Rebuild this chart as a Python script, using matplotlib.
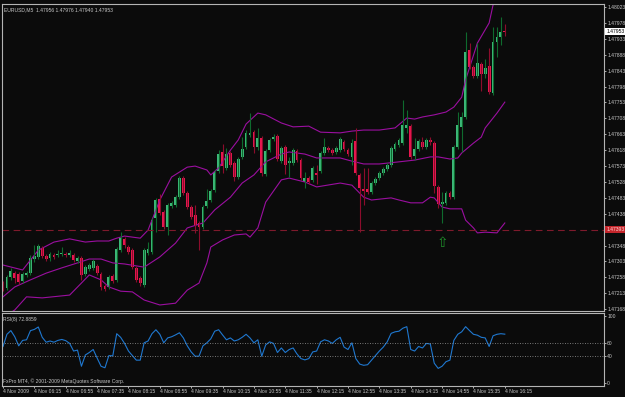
"""EURUSD M5 candlestick chart with Bollinger bands and RSI, MT4 style."""
import matplotlib
matplotlib.use("Agg")
import matplotlib.pyplot as plt
import matplotlib.transforms as mtransforms
import numpy as np

plt.rcParams["font.family"] = ["Liberation Sans", "DejaVu Sans"]

# Data
opens = [
    1.47242, 1.47228, 1.47259, 1.47270, 1.47268, 1.47248, 1.47265, 1.47270, 1.47310, 1.47316,
    1.47341, 1.47319, 1.47313, 1.47321, 1.47321, 1.47324, 1.47324, 1.47321, 1.47321, 1.47304,
    1.47313, 1.47268, 1.47282, 1.47285, 1.47290, 1.47268, 1.47234, 1.47231, 1.47262, 1.47251,
    1.47335, 1.47367, 1.47344, 1.47335, 1.47285, 1.47256, 1.47236, 1.47327, 1.47330, 1.47426,
    1.47480, 1.47443, 1.47401, 1.47460, 1.47463, 1.47485, 1.47539, 1.47497, 1.47457, 1.47435,
    1.47412, 1.47401, 1.47460, 1.47477, 1.47505, 1.47559, 1.47613, 1.47568, 1.47610, 1.47582,
    1.47542, 1.47599, 1.47627, 1.47661, 1.47669, 1.47627, 1.47652, 1.47551, 1.47618, 1.47650,
    1.47658, 1.47587, 1.47627, 1.47582, 1.47582, 1.47616, 1.47590, 1.47528, 1.47539, 1.47534,
    1.47553, 1.47559, 1.47610, 1.47624, 1.47618, 1.47613, 1.47618, 1.47641, 1.47618, 1.47599,
    1.47644, 1.47548, 1.47508, 1.47508, 1.47500, 1.47525, 1.47539, 1.47553, 1.47565, 1.47576,
    1.47621, 1.47633, 1.47638, 1.47681, 1.47686, 1.47602, 1.47621, 1.47641, 1.47627, 1.47647,
    1.47638, 1.47514, 1.47466, 1.47469, 1.47497, 1.47485, 1.47627, 1.47684, 1.47712, 1.47901,
    1.47853, 1.47828, 1.47862, 1.47834, 1.47856, 1.47780, 1.47924, 1.47938, 1.47956,
]
highs = [
    1.47248, 1.47265, 1.47285, 1.47276, 1.47273, 1.47273, 1.47276, 1.47321, 1.47350, 1.47352,
    1.47347, 1.47324, 1.47330, 1.47327, 1.47335, 1.47344, 1.47330, 1.47335, 1.47327, 1.47319,
    1.47319, 1.47293, 1.47299, 1.47310, 1.47296, 1.47273, 1.47239, 1.47265, 1.47268, 1.47344,
    1.47386, 1.47372, 1.47350, 1.47341, 1.47290, 1.47262, 1.47341, 1.47358, 1.47426, 1.47483,
    1.47494, 1.47449, 1.47469, 1.47474, 1.47491, 1.47545, 1.47545, 1.47502, 1.47463, 1.47463,
    1.47418, 1.47463, 1.47508, 1.47508, 1.47562, 1.47618, 1.47635, 1.47624, 1.47616, 1.47587,
    1.47599, 1.47655, 1.47675, 1.47723, 1.47675, 1.47681, 1.47658, 1.47621, 1.47652, 1.47664,
    1.47664, 1.47630, 1.47633, 1.47599, 1.47624, 1.47621, 1.47596, 1.47556, 1.47545, 1.47573,
    1.47576, 1.47616, 1.47652, 1.47630, 1.47624, 1.47630, 1.47655, 1.47647, 1.47624, 1.47650,
    1.47681, 1.47553, 1.47568, 1.47568, 1.47531, 1.47542, 1.47559, 1.47570, 1.47582, 1.47630,
    1.47641, 1.47652, 1.47760, 1.47732, 1.47692, 1.47652, 1.47650, 1.47655, 1.47652, 1.47655,
    1.47644, 1.47519, 1.47500, 1.47502, 1.47502, 1.47633, 1.47726, 1.47726, 1.47952, 1.47921,
    1.47859, 1.47921, 1.47868, 1.47876, 1.47907, 1.47967, 1.47967, 1.47995, 1.47976,
]
lows = [
    1.47219, 1.47222, 1.47251, 1.47242, 1.47239, 1.47242, 1.47259, 1.47265, 1.47302, 1.47310,
    1.47313, 1.47304, 1.47304, 1.47310, 1.47316, 1.47319, 1.47316, 1.47316, 1.47302, 1.47299,
    1.47251, 1.47262, 1.47276, 1.47279, 1.47265, 1.47222, 1.47219, 1.47225, 1.47242, 1.47245,
    1.47330, 1.47341, 1.47324, 1.47282, 1.47245, 1.47234, 1.47231, 1.47321, 1.47324, 1.47386,
    1.47435, 1.47395, 1.47378, 1.47454, 1.47457, 1.47480, 1.47491, 1.47452, 1.47423, 1.47384,
    1.47335, 1.47395, 1.47454, 1.47471, 1.47500, 1.47553, 1.47553, 1.47562, 1.47570, 1.47531,
    1.47536, 1.47593, 1.47621, 1.47655, 1.47610, 1.47618, 1.47545, 1.47545, 1.47613, 1.47644,
    1.47587, 1.47582, 1.47551, 1.47542, 1.47576, 1.47585, 1.47534, 1.47511, 1.47522, 1.47528,
    1.47522, 1.47553, 1.47604, 1.47613, 1.47604, 1.47607, 1.47613, 1.47616, 1.47602, 1.47576,
    1.47548, 1.47386, 1.47463, 1.47494, 1.47494, 1.47519, 1.47534, 1.47548, 1.47559, 1.47570,
    1.47616, 1.47627, 1.47633, 1.47667, 1.47593, 1.47590, 1.47616, 1.47621, 1.47621, 1.47633,
    1.47497, 1.47454, 1.47412, 1.47463, 1.47480, 1.47480, 1.47621, 1.47613, 1.47706, 1.47848,
    1.47822, 1.47822, 1.47785, 1.47822, 1.47777, 1.47774, 1.47882, 1.47916, 1.47940,
]
closes = [
    1.47228, 1.47259, 1.47276, 1.47256, 1.47245, 1.47268, 1.47270, 1.47313, 1.47319, 1.47347,
    1.47319, 1.47310, 1.47324, 1.47316, 1.47324, 1.47327, 1.47321, 1.47327, 1.47307, 1.47313,
    1.47265, 1.47287, 1.47293, 1.47304, 1.47270, 1.47231, 1.47225, 1.47259, 1.47248, 1.47338,
    1.47369, 1.47350, 1.47330, 1.47287, 1.47251, 1.47242, 1.47335, 1.47338, 1.47420, 1.47477,
    1.47440, 1.47401, 1.47463, 1.47469, 1.47485, 1.47539, 1.47497, 1.47457, 1.47429, 1.47406,
    1.47401, 1.47457, 1.47474, 1.47502, 1.47556, 1.47607, 1.47573, 1.47607, 1.47576, 1.47542,
    1.47593, 1.47621, 1.47667, 1.47667, 1.47627, 1.47652, 1.47553, 1.47616, 1.47647, 1.47655,
    1.47593, 1.47624, 1.47576, 1.47587, 1.47618, 1.47590, 1.47539, 1.47539, 1.47528, 1.47568,
    1.47548, 1.47610, 1.47627, 1.47618, 1.47610, 1.47624, 1.47650, 1.47621, 1.47607, 1.47638,
    1.47553, 1.47511, 1.47502, 1.47500, 1.47525, 1.47536, 1.47553, 1.47565, 1.47576, 1.47624,
    1.47635, 1.47647, 1.47689, 1.47689, 1.47599, 1.47621, 1.47644, 1.47627, 1.47647, 1.47641,
    1.47517, 1.47466, 1.47471, 1.47497, 1.47485, 1.47627, 1.47689, 1.47712, 1.47896, 1.47853,
    1.47828, 1.47865, 1.47834, 1.47851, 1.47783, 1.47924, 1.47938, 1.47952, 1.47953,
]

# Bollinger bands, sampled at bar indices
upper_idx = [0, 5, 9, 13, 17, 21, 24, 27, 29, 31, 35, 37, 40, 43, 47, 49, 52, 53, 55, 58,
             60, 62, 65, 67, 71, 74, 78, 81, 86, 89, 92, 96, 100, 103, 105, 107, 110, 113,
             115, 117, 118, 121, 124, 125, 128]
upper_band = [1.47293, 1.47279, 1.47335, 1.47358, 1.47367, 1.47358, 1.47361, 1.47361, 1.47369,
              1.47375, 1.47369, 1.47392, 1.47477, 1.47542, 1.47570, 1.47573, 1.47562, 1.47548,
              1.47568, 1.47618, 1.47647, 1.47692, 1.47723, 1.47718, 1.47695, 1.47684, 1.47686,
              1.47669, 1.47667, 1.47672, 1.47675, 1.47675, 1.47681, 1.47709, 1.47706, 1.47712,
              1.47718, 1.47726, 1.47740, 1.47768, 1.47817, 1.47921, 1.47978, 1.48029, 1.48077]
mid_idx = [0, 3, 7, 11, 15, 19, 22, 25, 28, 31, 36, 40, 44, 47, 51, 54, 58, 61, 64, 67,
           71, 73, 77, 80, 86, 89, 92, 96, 101, 105, 109, 111, 114, 116, 117, 120, 122, 123,
           126, 128]
mid_band = [1.47203, 1.47231, 1.47251, 1.47270, 1.47285, 1.47299, 1.47310, 1.47310, 1.47299,
            1.47296, 1.47287, 1.47316, 1.47355, 1.47398, 1.47412, 1.47449, 1.47485, 1.47525,
            1.47548, 1.47585, 1.47607, 1.47613, 1.47607, 1.47596, 1.47596, 1.47587, 1.47579,
            1.47579, 1.47585, 1.47590, 1.47599, 1.47599, 1.47593, 1.47596, 1.47610, 1.47638,
            1.47655, 1.47681, 1.47723, 1.47754]
lower_idx = [0, 3, 6, 10, 17, 20, 22, 25, 27, 30, 33, 36, 40, 44, 47, 50, 52, 53, 56, 59,
             62, 63, 65, 67, 71, 73, 77, 80, 86, 89, 92, 94, 99, 101, 104, 107, 109, 110,
             112, 114, 117, 118, 120, 121, 123, 126, 128]
lower_band = [1.47143, 1.47166, 1.47203, 1.47200, 1.47208, 1.47242, 1.47265, 1.47251, 1.47231,
              1.47219, 1.47217, 1.47194, 1.47180, 1.47185, 1.47222, 1.47242, 1.47299, 1.47344,
              1.47364, 1.47378, 1.47381, 1.47372, 1.47398, 1.47471, 1.47534, 1.47539, 1.47528,
              1.47514, 1.47525, 1.47519, 1.47485, 1.47477, 1.47483, 1.47477, 1.47469, 1.47469,
              1.47485, 1.47483, 1.47457, 1.47452, 1.47452, 1.47420, 1.47398, 1.47384, 1.47386,
              1.47384, 1.47412]

rsi = [
    54.5, 72.7, 78.2, 69.0, 55.5, 63.6, 64.5, 78.2, 80.0, 83.6,
    68.2, 60.9, 62.7, 60.9, 63.6, 65.0, 63.2, 59.1, 47.7, 49.1,
    25.0, 41.8, 45.5, 50.0, 37.3, 25.0, 22.7, 40.9, 40.5, 73.6,
    68.2, 59.1, 47.7, 40.9, 34.1, 34.1, 60.0, 62.7, 73.6, 79.5,
    72.7, 60.0, 67.3, 69.0, 71.8, 75.0, 67.3, 55.5, 46.4, 40.0,
    40.0, 55.5, 60.0, 65.9, 77.3, 79.5, 71.8, 64.5, 67.3, 62.7,
    64.5, 68.2, 72.7, 67.3, 60.0, 64.5, 40.0, 56.8, 61.4, 59.1,
    45.5, 52.3, 45.5, 50.0, 52.3, 43.2, 36.4, 34.5, 36.4, 46.4,
    47.7, 61.4, 64.5, 62.7, 59.1, 64.5, 68.2, 53.6, 50.0, 60.0,
    36.4, 28.2, 26.4, 27.3, 34.1, 40.9, 47.7, 53.6, 61.4, 74.1,
    76.4, 77.3, 81.8, 84.1, 50.0, 47.7, 54.5, 52.3, 59.1, 58.2,
    29.5, 21.8, 25.0, 31.8, 34.1, 63.6, 72.7, 76.4, 84.1, 78.2,
    72.7, 71.4, 68.2, 67.3, 54.5, 70.5, 72.7, 73.6, 72.9,
]

price_ticks = [1.47168, 1.47213, 1.47258, 1.47303, 1.47348, 1.47393, 1.47438, 1.47483,
               1.47528, 1.47573, 1.47618, 1.47663, 1.47708, 1.47753, 1.47798, 1.47843,
               1.47888, 1.47933, 1.47978, 1.48023]
time_idx = list(range(0, 129, 8))
time_labels = ["4 Nov 2009", "4 Nov 06:15", "4 Nov 06:55", "4 Nov 07:35", "4 Nov 08:15",
               "4 Nov 08:55", "4 Nov 09:35", "4 Nov 10:15", "4 Nov 10:55", "4 Nov 11:35",
               "4 Nov 12:15", "4 Nov 12:55", "4 Nov 13:35", "4 Nov 14:15", "4 Nov 14:55",
               "4 Nov 15:35", "4 Nov 16:15"]
hline_price = 1.47393
arrow_bar, arrow_price = 112, 1.47355

# Colours
BG = "#0b0b0b"
FG = "#c8c8c8"
UP_BODY, DN_BODY = "#3cb878", "#e8174f"
UP_WICK, DN_WICK = "#0e6b2e", "#8c0c2c"
BAND = "#9b0fa0"
FS = 3.6

W, H = 625, 397
fig = plt.figure(figsize=(W / 100, H / 100), dpi=100, facecolor=BG)


def px_axes(x0, y0, x1, y1):
    return fig.add_axes([x0 / W, 1 - y1 / H, (x1 - x0) / W, (y1 - y0) / H])


ax = px_axes(2, 4, 604, 311)
ax2 = px_axes(2, 313, 604, 386)
xlim = (-0.26, 153.3)

o, h, l, c = map(np.array, (opens, highs, lows, closes))
x = np.arange(len(o))
up = c >= o

# --- main price panel ---
ax.plot(upper_idx, upper_band, color=BAND, lw=0.8)
ax.plot(mid_idx, mid_band, color=BAND, lw=0.8)
ax.plot(lower_idx, lower_band, color=BAND, lw=0.8)

ax.vlines(x[up], l[up], h[up], color=UP_WICK, lw=0.8)
ax.vlines(x[~up], l[~up], h[~up], color=DN_WICK, lw=0.8)
body = np.maximum(np.abs(c - o), 0.00003)
bottom = np.minimum(o, c)
ax.bar(x[up], body[up], bottom=bottom[up], width=0.72, color=UP_BODY, linewidth=0)
ax.bar(x[~up], body[~up], bottom=bottom[~up], width=0.72, color=DN_BODY, linewidth=0)

ax.axhline(hline_price, color="#7e1a2c", lw=0.8, ls=(0, (6, 4)))
ax.text(arrow_bar, arrow_price, "\u21e7", color="#1f8f2a", fontsize=10,
        family="DejaVu Sans", ha="center", va="center")

ax.set_xlim(*xlim)
ax.set_ylim(1.471629, 1.480317)
ax.yaxis.tick_right()
ax.set_yticks(price_ticks)
ax.set_yticklabels([f"{v:.5f}" for v in price_ticks])
ax.set_xticks([])

blend = mtransforms.blended_transform_factory(ax.transAxes, ax.transData)
ax.text(1.004, closes[-1], f"{closes[-1]:.5f}", transform=blend, fontsize=FS,
        color="black", va="center", ha="left",
        bbox=dict(boxstyle="square,pad=0.2", facecolor="white", edgecolor="none"))
ax.text(1.004, hline_price, f"{hline_price:.5f}", transform=blend, fontsize=FS,
        color="#ffd8d8", va="center", ha="left",
        bbox=dict(boxstyle="square,pad=0.2", facecolor="#c4252b", edgecolor="none"))

fig.text(4 / W, 1 - 10 / H, "EURUSD,M5  1.47956 1.47976 1.47940 1.47953",
         fontsize=FS, color=FG, va="center", ha="left")

# --- RSI panel ---
ax2.plot(x, rsi, color="#1f78d0", lw=0.8)
ax2.axhline(60, color="#9a9a9a", lw=0.6, ls=(0, (1, 2)))
ax2.axhline(40, color="#9a9a9a", lw=0.6, ls=(0, (1, 2)))
ax2.set_xlim(*xlim)
ax2.set_ylim(-4.5, 104.5)
ax2.yaxis.tick_right()
ax2.set_yticks([100, 60, 40, 0])
ax2.set_yticklabels(["100", "60", "40", "0"])
ax2.set_xticks(time_idx)
ax2.set_xticklabels(time_labels, ha="left")
ax2.text(0.002, 0.95, "RSI(8) 72.8859", transform=ax2.transAxes, fontsize=FS,
         color=FG, va="top", ha="left")
ax2.text(0.002, 0.03, "FxPro MT4, \u00a9 2001-2009 MetaQuotes Software Corp.",
         transform=ax2.transAxes, fontsize=FS, color=FG, va="bottom", ha="left")

for a in (ax, ax2):
    a.set_facecolor(BG)
    for s in a.spines.values():
        s.set_color("#b4b4b4")
        s.set_linewidth(0.8)
    a.tick_params(colors=FG, labelsize=FS, length=1.5, width=0.6, pad=0.8)

plt.savefig("out.png", dpi=100, facecolor=BG)
